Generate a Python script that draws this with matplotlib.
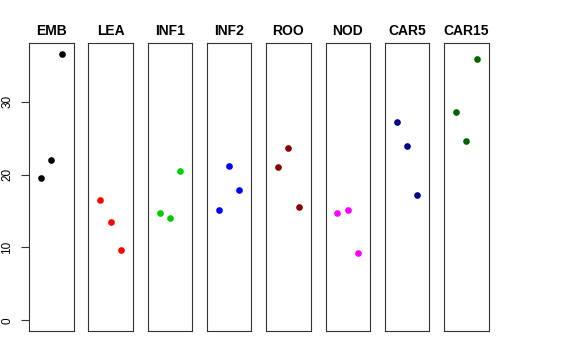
import matplotlib
matplotlib.use("Agg")
import matplotlib.pyplot as plt

groups = ["EMB", "LEA", "INF1", "INF2", "ROO", "NOD", "CAR5", "CAR15"]
colors = ["black", "red", "#00CD00", "blue", "#8B0000", "magenta", "#00008B", "#006400"]
emb = [19.6, 22.0, 36.6]
lea = [16.5, 13.5, 9.7]
inf1 = [14.8, 14.0, 20.5]
inf2 = [15.2, 21.2, 17.9]
roo = [21.1, 23.7, 15.6]
nod = [14.8, 15.1, 9.2]
car5 = [27.2, 23.9, 17.2]
car15 = [28.6, 24.6, 35.9]
values = [emb, lea, inf1, inf2, roo, nod, car5, car15]
yticks = [0, 10, 20, 30]

plt.rcParams['font.family'] = ['Liberation Sans', 'DejaVu Sans']
fig = plt.figure(figsize=(5.76, 3.6), dpi=100)
W, H = 576, 360
left0, pw, step = 29, 44.5, 59.3
top, bottom = 43, 331
ymin, ymax = 0, max(max(v) for v in values)
pad = (ymax - ymin) * 0.04
for i, (g, c, v) in enumerate(zip(groups, colors, values)):
    x0 = left0 + i * step
    ax = fig.add_axes([x0 / W, 1 - bottom / H, pw / W, (bottom - top) / H])
    xs = list(range(1, len(v) + 1))
    ax.plot(xs, v, 'o', color=c, markersize=4.8, markeredgewidth=0)
    ax.set_xlim(0 - 0.16, 4 + 0.16)
    ax.set_ylim(ymin - pad, ymax + pad)
    ax.set_xticks([])
    for s in ax.spines.values():
        s.set_linewidth(0.8)
        s.set_color('#333333')
    if i == 0:
        ax.set_yticks(yticks)
        ax.set_yticklabels([str(t) for t in yticks], rotation=90, va='center', fontsize=8.5)
        ax.tick_params(axis='y', length=5.8, width=0.8, pad=5.5, color='#333333')
    else:
        ax.set_yticks([])
    ax.set_title(g, fontsize=10, fontweight='bold', pad=6)

fig.savefig("out.png", dpi=100)
